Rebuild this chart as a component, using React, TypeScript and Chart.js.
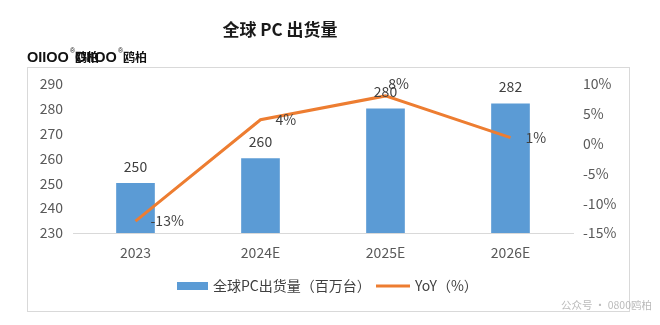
import React, { useEffect, useRef } from "react";
import { Chart, registerables } from "chart.js";

Chart.register(...registerables);

const categories = ["2023", "2024E", "2025E", "2026E"];
const shipments = [250, 260, 280, 282];
const yoy = [-13, 4, 8, 1];
const leftTicks = [230, 240, 250, 260, 270, 280, 290];
const rightTicks = [-15, -10, -5, 0, 5, 10];

const TITLE = "全球 PC 出货量";
const BAR_LABEL = "全球PC出货量（百万台）";
const LINE_LABEL = "YoY（%）";
const WATERMARK = "公众号 · 0800鸥柏";
const BRAND = "OIIOO";
const BRAND_CN = "鸥柏";

const BLUE = "#5B9BD5";
const ORANGE = "#ED7D31";
const TEXT = "#404040";
const AXIS_TEXT = "#595959";
const FONT = "'Noto Sans CJK SC', 'Noto Sans', sans-serif";

// Positions of YoY labels relative to their points
const yoyLabelPos = ["right", "right", "above", "right"];

const decorPlugin = {
  id: "decor",
  beforeDraw(chart: any) {
    const ctx = chart.ctx;
    ctx.save();
    ctx.fillStyle = "#ffffff";
    ctx.fillRect(0, 0, chart.width, chart.height);
    // frame
    ctx.strokeStyle = "#d9d9d9";
    ctx.lineWidth = 1;
    ctx.strokeRect(27.5, 67.5, 602, 244);
    ctx.restore();
  },
  afterDraw(chart: any) {
    const ctx = chart.ctx;
    ctx.save();
    // title
    ctx.fillStyle = "#1a1a1a";
    ctx.font = `bold 17px ${FONT}`;
    ctx.textAlign = "center";
    ctx.textBaseline = "middle";
    ctx.fillText(TITLE, 280, 30);

    // brand logo (drawn twice, overlapping)
    const drawLogo = (x: number) => {
      ctx.textAlign = "left";
      ctx.textBaseline = "alphabetic";
      ctx.fillStyle = "#111";
      ctx.font = `bold 14.5px 'Liberation Sans', sans-serif`;
      ctx.fillText(BRAND, x, 62);
      const w = ctx.measureText(BRAND).width;
      ctx.font = `7px 'Liberation Sans', sans-serif`;
      ctx.fillText("®", x + w + 1, 53);
      ctx.font = `bold 12px ${FONT}`;
      ctx.fillText(BRAND_CN, x + w + 6, 62);
    };
    drawLogo(27);
    drawLogo(75);

    // bar value labels
    const barMeta = chart.getDatasetMeta(0);
    ctx.font = `14px ${FONT}`;
    ctx.fillStyle = TEXT;
    ctx.textAlign = "center";
    ctx.textBaseline = "middle";
    barMeta.data.forEach((el: any, i: number) => {
      ctx.fillText(String(shipments[i]), el.x, el.y - 17);
    });

    // YoY labels
    const lineMeta = chart.getDatasetMeta(1);
    lineMeta.data.forEach((el: any, i: number) => {
      const txt = `${yoy[i]}%`;
      if (yoyLabelPos[i] === "above") {
        ctx.textAlign = "center";
        ctx.fillText(txt, el.x + 13, el.y - 12);
      } else {
        ctx.textAlign = "left";
        ctx.fillText(txt, el.x + 15, el.y);
      }
    });

    // legend
    const ly = 286;
    ctx.fillStyle = BLUE;
    ctx.fillRect(177, ly - 4, 31, 8);
    ctx.fillStyle = TEXT;
    ctx.textAlign = "left";
    ctx.font = `14px ${FONT}`;
    ctx.fillText(BAR_LABEL, 213, ly);
    ctx.strokeStyle = ORANGE;
    ctx.lineWidth = 3;
    ctx.beginPath();
    ctx.moveTo(376, ly);
    ctx.lineTo(410, ly);
    ctx.stroke();
    ctx.fillText(LINE_LABEL, 415, ly);

    // watermark
    ctx.fillStyle = "rgba(170,170,170,0.8)";
    ctx.font = `10.5px ${FONT}`;
    ctx.textAlign = "left";
    ctx.fillText(WATERMARK, 561, 305);
    ctx.restore();
  },
};

export default function App() {
  const ref = useRef<HTMLCanvasElement | null>(null);

  useEffect(() => {
    if (!ref.current) return;
    const chart = new Chart(ref.current, {
      type: "bar",
      data: {
        labels: categories,
        datasets: [
          {
            type: "bar",
            label: BAR_LABEL,
            data: shipments,
            backgroundColor: BLUE,
            barThickness: 38,
            yAxisID: "y",
            order: 2,
          },
          {
            type: "line",
            label: LINE_LABEL,
            data: yoy,
            borderColor: ORANGE,
            borderWidth: 3,
            pointRadius: 0,
            tension: 0,
            yAxisID: "y2",
            order: 1,
          } as any,
        ],
      },
      options: {
        responsive: false,
        animation: false,
        layout: { padding: { top: 84, left: 0, right: 0, bottom: 0 } },
        plugins: {
          legend: { display: false },
          tooltip: { enabled: false },
          title: { display: false },
        },
        scales: {
          x: {
            grid: { display: false, drawTicks: false },
            border: { display: true, color: "#d9d9d9", width: 1 },
            ticks: {
              color: AXIS_TEXT,
              font: { size: 14, family: FONT },
              padding: 11,
              maxRotation: 0,
            },
            afterFit: (s: any) => {
              s.height = 92;
            },
          },
          y: {
            position: "left",
            min: leftTicks[0],
            max: leftTicks[leftTicks.length - 1],
            grid: { display: false, drawTicks: false },
            border: { display: false },
            ticks: {
              stepSize: 10,
              color: AXIS_TEXT,
              font: { size: 14, family: FONT },
              padding: 10,
            },
            afterFit: (s: any) => {
              s.width = 73;
            },
          },
          y2: {
            position: "right",
            min: rightTicks[0],
            max: rightTicks[rightTicks.length - 1],
            grid: { display: false, drawTicks: false },
            border: { display: false },
            ticks: {
              stepSize: 5,
              color: AXIS_TEXT,
              font: { size: 14, family: FONT },
              padding: 10,
              callback: (v: any) => `${v}%`,
            },
            afterFit: (s: any) => {
              s.width = 87;
            },
          },
        },
      },
      plugins: [decorPlugin],
    });
    return () => chart.destroy();
  }, []);

  return (
    <div style={{ position: "fixed", left: 0, top: 0, width: 660, height: 325 }}>
      <canvas ref={ref} width={660} height={325} style={{ display: "block" }} />
    </div>
  );
}
